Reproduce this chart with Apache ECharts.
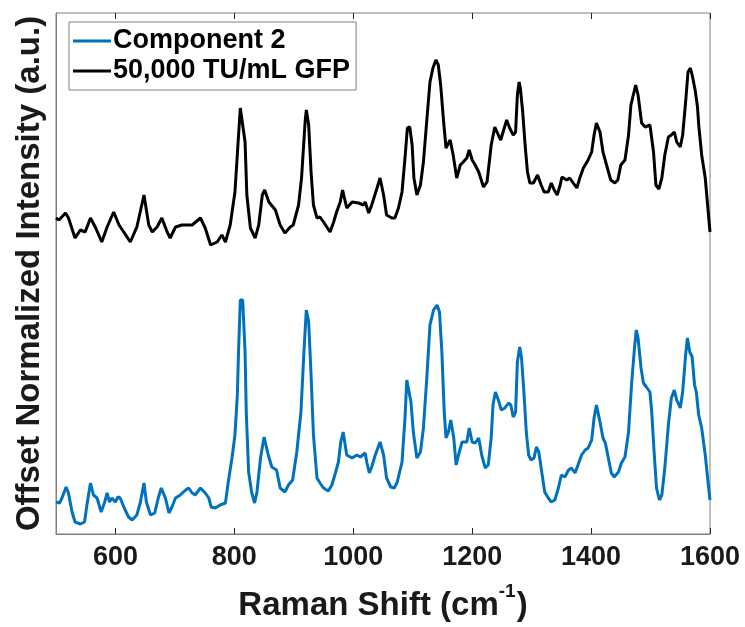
<!DOCTYPE html>
<html>
<head>
<meta charset="utf-8">
<script src="https://cdn.jsdelivr.net/npm/echarts@6/dist/echarts.min.js"></script>
<style>
  html, body { margin: 0; padding: 0; background: #fff; }
  #chart { width: 745px; height: 627px; }
</style>
</head>
<body>
<div id="chart"></div>
<script>
// Raman shift (cm-1) and offset normalized intensity (a.u.)
var gfpShift = [500, 505, 516, 521, 532, 541, 549, 558, 566, 577, 586, 597, 606, 614, 625, 636, 648, 656, 662, 670,
    678, 687, 692, 701, 712, 729, 743, 751, 760, 771, 779, 785, 793, 801, 806, 810, 813, 818, 821, 827,
    835, 841, 847, 851, 858, 869, 877, 885, 894, 899, 908, 913, 919, 921, 925, 929, 933, 939, 944, 950,
    961, 967, 972, 978, 982, 989, 998, 1009, 1017, 1020, 1026, 1031, 1040, 1045, 1051, 1056, 1065, 1070, 1076, 1082,
    1087, 1091, 1095, 1099, 1102, 1107, 1113, 1118, 1124, 1129, 1134, 1139, 1143, 1147, 1152, 1156, 1163, 1168, 1174, 1180,
    1185, 1191, 1195, 1200, 1205, 1211, 1219, 1225, 1232, 1238, 1244, 1248, 1252, 1258, 1263, 1269, 1273, 1276, 1279, 1281,
    1285, 1289, 1293, 1297, 1303, 1310, 1316, 1321, 1328, 1333, 1338, 1343, 1348, 1351, 1359, 1364, 1370, 1376, 1381, 1387,
    1395, 1401, 1405, 1409, 1415, 1420, 1426, 1433, 1440, 1445, 1450, 1457, 1463, 1467, 1471, 1475, 1479, 1485, 1491, 1499,
    1505, 1509, 1514, 1519, 1524, 1530, 1535, 1540, 1544, 1550, 1554, 1559, 1563, 1567, 1570, 1575, 1579, 1581, 1586, 1592,
    1596, 1600];
var gfpIntensity = [3.16, 3.14, 3.21, 3.16, 2.96, 3.04, 3.02, 3.16, 3.07, 2.92, 3.07, 3.22, 3.09, 3.02, 2.92, 3.07, 3.39, 3.09, 3.02, 3.07,
    3.16, 3.02, 2.96, 3.07, 3.09, 3.09, 3.16, 3.06, 2.89, 2.92, 2.99, 2.92, 3.09, 3.42, 3.89, 4.26, 4.26, 3.92, 3.39, 3.06,
    2.96, 3.09, 3.39, 3.44, 3.32, 3.24, 3.09, 3.01, 3.07, 3.09, 3.29, 3.56, 4.12, 4.24, 4.09, 3.62, 3.29, 3.16, 3.17, 3.12,
    3.02, 3.12, 3.22, 3.32, 3.44, 3.26, 3.32, 3.31, 3.29, 3.32, 3.21, 3.29, 3.46, 3.56, 3.39, 3.19, 3.16, 3.16, 3.26, 3.42,
    3.76, 4.06, 4.07, 3.89, 3.56, 3.39, 3.49, 3.72, 4.16, 4.52, 4.66, 4.74, 4.69, 4.49, 4.12, 3.86, 3.94, 3.79, 3.56, 3.69,
    3.72, 3.76, 3.84, 3.74, 3.69, 3.62, 3.47, 3.52, 3.89, 4.07, 3.99, 3.94, 4.02, 4.14, 4.06, 3.99, 4.02, 4.39, 4.52, 4.46,
    4.22, 3.89, 3.62, 3.51, 3.51, 3.59, 3.49, 3.42, 3.42, 3.51, 3.44, 3.39, 3.49, 3.57, 3.54, 3.56, 3.51, 3.46, 3.56, 3.66,
    3.74, 3.82, 3.99, 4.11, 4.02, 3.82, 3.69, 3.54, 3.51, 3.54, 3.69, 3.74, 3.99, 4.29, 4.39, 4.49, 4.39, 4.11, 4.07, 4.09,
    3.82, 3.49, 3.45, 3.56, 3.79, 3.97, 3.99, 4.02, 3.92, 3.87, 3.99, 4.32, 4.62, 4.66, 4.59, 4.44, 4.27, 4.09, 3.79, 3.56,
    3.29, 3.02];

var compShift = [500, 506, 510, 517, 521, 527, 532, 541, 548, 552, 558, 563, 569, 576, 582, 586, 590, 594, 600, 604,
    608, 614, 622, 628, 636, 642, 648, 652, 659, 666, 672, 677, 684, 690, 695, 701, 709, 718, 723, 729,
    734, 743, 751, 757, 761, 768, 776, 785, 789, 796, 801, 805, 807, 810, 814, 818, 820, 824, 829, 834,
    838, 844, 850, 857, 863, 871, 877, 885, 891, 898, 905, 912, 917, 921, 925, 929, 933, 939, 944, 950,
    958, 964, 970, 975, 979, 983, 989, 998, 1006, 1012, 1016, 1020, 1023, 1027, 1031, 1037, 1045, 1051, 1056, 1063,
    1069, 1074, 1082, 1087, 1090, 1093, 1097, 1101, 1107, 1113, 1118, 1124, 1129, 1135, 1141, 1145, 1149, 1153, 1156, 1160,
    1164, 1169, 1173, 1177, 1183, 1191, 1195, 1200, 1205, 1211, 1216, 1222, 1227, 1232, 1235, 1239, 1244, 1249, 1255, 1261,
    1265, 1269, 1273, 1276, 1280, 1283, 1287, 1291, 1295, 1299, 1304, 1308, 1312, 1317, 1322, 1328, 1333, 1339, 1345, 1350,
    1356, 1362, 1367, 1373, 1378, 1384, 1390, 1395, 1401, 1405, 1409, 1415, 1420, 1424, 1429, 1434, 1439, 1446, 1451, 1457,
    1463, 1468, 1473, 1476, 1479, 1484, 1488, 1493, 1499, 1502, 1506, 1510, 1515, 1519, 1524, 1530, 1535, 1540, 1544, 1550,
    1554, 1559, 1562, 1566, 1570, 1574, 1577, 1581, 1586, 1592, 1596, 1600];
var compIntensity = [0.32, 0.31, 0.36, 0.47, 0.41, 0.22, 0.12, 0.10, 0.12, 0.29, 0.51, 0.39, 0.36, 0.22, 0.32, 0.41, 0.32, 0.36, 0.32, 0.37,
    0.36, 0.27, 0.17, 0.14, 0.19, 0.32, 0.51, 0.32, 0.19, 0.21, 0.36, 0.46, 0.36, 0.21, 0.27, 0.36, 0.39, 0.44, 0.46, 0.41,
    0.39, 0.46, 0.41, 0.36, 0.27, 0.26, 0.29, 0.31, 0.49, 0.76, 0.99, 1.39, 1.82, 2.34, 2.34, 1.82, 1.22, 0.62, 0.42, 0.31,
    0.42, 0.76, 0.97, 0.79, 0.67, 0.64, 0.46, 0.42, 0.49, 0.54, 0.82, 1.22, 1.82, 2.24, 2.12, 1.59, 0.99, 0.56, 0.51, 0.46,
    0.43, 0.49, 0.61, 0.72, 0.92, 1.02, 0.79, 0.76, 0.79, 0.77, 0.79, 0.81, 0.71, 0.61, 0.67, 0.79, 0.92, 0.79, 0.56, 0.47,
    0.46, 0.52, 0.72, 1.16, 1.54, 1.55, 1.32, 1.02, 0.76, 0.82, 1.06, 1.59, 2.09, 2.24, 2.29, 2.22, 1.82, 1.22, 0.96, 1.02,
    1.14, 0.96, 0.69, 0.79, 0.92, 0.92, 1.06, 0.92, 0.91, 0.96, 0.79, 0.66, 0.69, 0.96, 1.29, 1.42, 1.34, 1.24, 1.26, 1.31,
    1.29, 1.17, 1.22, 1.72, 1.87, 1.76, 1.42, 1.02, 0.79, 0.74, 0.76, 0.87, 0.82, 0.62, 0.42, 0.36, 0.32, 0.34, 0.46, 0.59,
    0.57, 0.64, 0.66, 0.61, 0.69, 0.79, 0.84, 0.86, 0.94, 1.16, 1.29, 1.12, 0.96, 0.91, 0.76, 0.61, 0.57, 0.62, 0.71, 0.77,
    1.02, 1.49, 1.86, 2.04, 1.96, 1.66, 1.51, 1.47, 1.42, 1.22, 0.82, 0.46, 0.34, 0.39, 0.66, 1.09, 1.36, 1.44, 1.34, 1.26,
    1.42, 1.79, 1.96, 1.82, 1.77, 1.49, 1.42, 1.19, 1.06, 0.79, 0.56, 0.34];

var xTicks = [600, 800, 1000, 1200, 1400, 1600];

function pairs(xs, ys) {
    var out = [];
    for (var i = 0; i < xs.length; i++) out.push([xs[i], ys[i]]);
    return out;
}

var font = '"Liberation Sans", Arial, sans-serif';
var frameColor = '#808080';

var myChart = echarts.init(document.getElementById('chart'));
myChart.setOption({
    animation: false,
    grid: {
        left: 56,
        right: 35,
        top: 13,
        bottom: 93,
        show: true,
        borderColor: frameColor,
        borderWidth: 1,
        backgroundColor: '#fff'
    },
    legend: {
        orient: 'vertical',
        left: 69,
        top: 22,
        padding: [4, 6, 4, 4],
        itemGap: 0,
        itemWidth: 38,
        itemHeight: 3,
        backgroundColor: '#fff',
        borderColor: frameColor,
        borderWidth: 1,
        borderRadius: 0,
        textStyle: {
            fontFamily: font,
            fontWeight: 'bold',
            fontSize: 27,
            lineHeight: 30,
            color: '#000',
            padding: [0, 0, 0, -3]
        },
        data: [
            { name: 'Component 2', icon: 'rect' },
            { name: '50,000 TU/mL GFP', icon: 'rect' }
        ]
    },
    xAxis: [
        {
            type: 'value',
            position: 'bottom',
            min: 500,
            max: 1600,
            axisLine: { show: true, lineStyle: { color: frameColor, width: 1 } },
            axisTick: { show: true, inside: true, length: 6, customValues: xTicks, lineStyle: { color: '#262626' } },
            axisLabel: {
                customValues: xTicks,
                formatter: function (v) { return String(v); },
                margin: 10,
                fontFamily: font,
                fontWeight: 'bold',
                fontSize: 27,
                color: '#1a1a1a'
            },
            splitLine: { show: false },
            name: '{a|Raman Shift (cm}{s|-1}{a|)}',
            nameLocation: 'middle',
            nameGap: 48,
            nameTextStyle: {
                rich: {
                    a: { fontFamily: font, fontWeight: 'bold', fontSize: 33, lineHeight: 40, color: '#1a1a1a', verticalAlign: 'bottom' },
                    s: { fontFamily: font, fontWeight: 'bold', fontSize: 19, lineHeight: 19, color: '#1a1a1a', verticalAlign: 'top', padding: [0, 1, 0, 0] }
                }
            }
        },
        {
            type: 'value',
            position: 'top',
            min: 500,
            max: 1600,
            axisLine: { show: false },
            axisTick: { show: true, inside: true, length: 6, customValues: xTicks, lineStyle: { color: '#262626' } },
            axisLabel: { show: false },
            splitLine: { show: false }
        }
    ],
    yAxis: {
        type: 'value',
        min: 0,
        max: 5.21,
        axisLine: { show: true, lineStyle: { color: frameColor, width: 1 } },
        axisTick: { show: false },
        axisLabel: { show: false },
        splitLine: { show: false },
        name: 'Offset Normalized Intensity (a.u.)',
        nameLocation: 'middle',
        nameGap: 10,
        nameTextStyle: {
            fontFamily: font,
            fontWeight: 'bold',
            fontSize: 33,
            color: '#1a1a1a'
        }
    },
    series: [
        {
            name: 'Component 2',
            type: 'line',
            showSymbol: false,
            symbol: 'none',
            color: '#0072BD',
            lineStyle: { width: 3, color: '#0072BD' },
            data: pairs(compShift, compIntensity)
        },
        {
            name: '50,000 TU/mL GFP',
            type: 'line',
            showSymbol: false,
            symbol: 'none',
            color: '#000000',
            lineStyle: { width: 3, color: '#000000' },
            data: pairs(gfpShift, gfpIntensity)
        }
    ]
});
</script>
</body>
</html>
